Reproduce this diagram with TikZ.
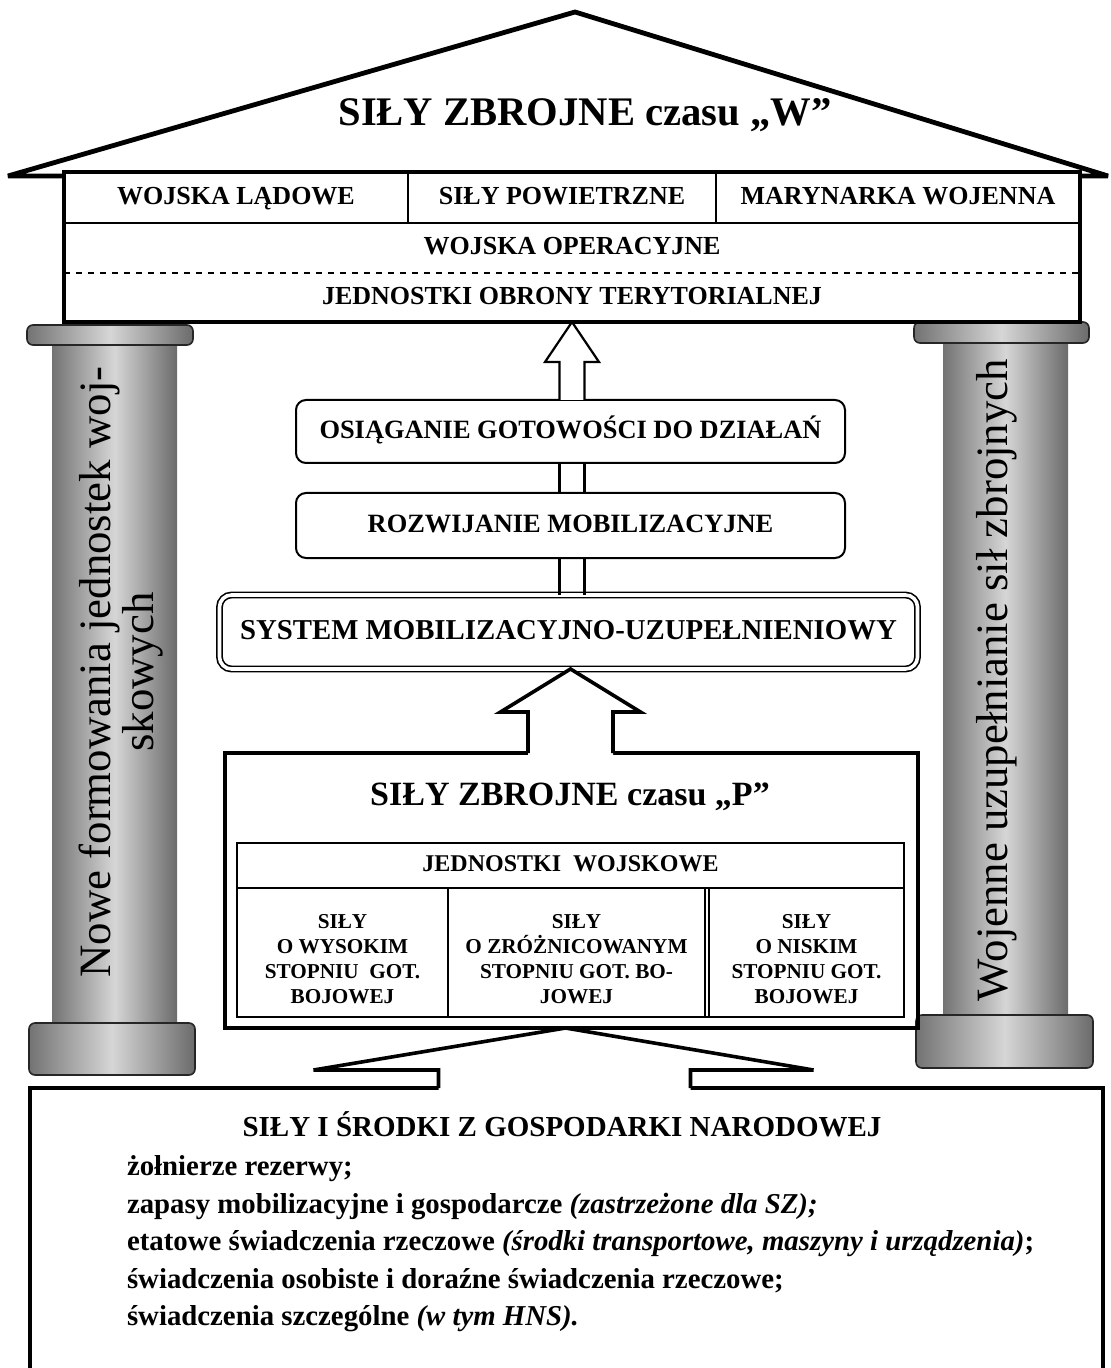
\documentclass[tikz,border=0pt]{standalone}
\usepackage{fontspec}
\setmainfont{Liberation Serif}
\usetikzlibrary{calc}
\begin{document}
\begin{tikzpicture}[x=0.5pt,y=-0.5pt,
  every node/.style={inner sep=0pt,outer sep=0pt},
  roofline/.style={draw=black,line width=2.4pt,line join=bevel,fill=white},
  cellbox/.style={fill=white,text height=9.2pt,text depth=2.6pt,font=\bfseries\fontsize{13}{15}\selectfont},
  procbox/.style={draw,line width=1pt,rounded corners=5pt,fill=white,text height=9.3pt,text depth=2.7pt,font=\bfseries\fontsize{13.2}{15}\selectfont},
  colshade/.style={left color=black!55,right color=black!58,middle color=black!16},
  colpart/.style={colshade,draw=black!85,line width=0.8pt,rounded corners=3pt},
  coltxt/.style={rotate=90,align=center,font=\fontsize{22.4}{20}\selectfont},
  hollow/.style={draw,line width=1.8pt,line join=miter},
  thinarrow/.style={draw,line width=1.1pt,line join=miter},
  tabcell/.style={draw,line width=0.9pt},
  celltxt/.style={align=center,font=\bfseries\fontsize{10.6}{12.5}\selectfont}
]
\useasboundingbox (0,0) rectangle (1110,1368);

% ---------- columns ----------
\node[colshade,minimum width=62.5pt,minimum height=339pt] (lshaft) at (114.5,684) {};
\node[colshade,minimum width=62.5pt,minimum height=336pt] (rshaft) at (1005.5,679) {};
\node[colpart,minimum width=83pt,minimum height=10pt] (lcap) at (110,335) {};
\node[colpart,minimum width=83pt,minimum height=26pt] (lbase) at (112,1049) {};
\node[colpart,minimum width=87.5pt,minimum height=10.5pt] (rcap) at (1001.5,332.5) {};
\node[colpart,minimum width=88.5pt,minimum height=26.5pt] (rbase) at (1004.5,1041.5) {};
\node[coltxt] (ltxt) at (121,672) {Nowe formowania jednostek woj-\\skowych};
\node[coltxt] (rtxt) at (997,680) {Wojenne uzupełnianie sił zbrojnych};

% ---------- roof ----------
\draw[roofline] (8,176) -- (575,12) -- (1108,176) -- cycle;
\node[font=\bfseries\fontsize{20.3}{24}\selectfont] (wtitle) at (585,115) {SIŁY ZBROJNE czasu „W”};

% ---------- wartime forces box ----------
\node[cellbox,minimum width=172pt,minimum height=25.5pt] (wl) at (236,197.5) {WOJSKA LĄDOWE};
\node[cellbox,minimum width=154pt,minimum height=25.5pt] (sp) at (562,197.5) {SIŁY POWIETRZNE};
\node[cellbox,minimum width=182pt,minimum height=25.5pt] (mw) at (898,197.5) {MARYNARKA WOJENNA};
\node[cellbox,minimum width=508pt,minimum height=25pt] (wop) at (572,248) {WOJSKA OPERACYJNE};
\node[cellbox,minimum width=508pt,minimum height=24.5pt] (jot) at (572,297.5) {JEDNOSTKI OBRONY TERYTORIALNEJ};
\draw[line width=1.2pt] (wl.south west) -- (mw.south east);
\draw[line width=1.2pt] (wl.north east) -- (wl.south east);
\draw[line width=1.2pt] (sp.north east) -- (sp.south east);
\draw[dashed,line width=1.2pt] (wop.south west) -- (wop.south east);
\draw[line width=2pt] (wl.north west) rectangle (jot.south east);

% ---------- process boxes ----------
\node[procbox,minimum width=274.5pt,minimum height=31.5pt] (osi) at (570.5,431.5) {OSIĄGANIE GOTOWOŚCI DO DZIAŁAŃ};
\node[procbox,minimum width=274.5pt,minimum height=32.5pt] (roz) at (570.5,525.5) {ROZWIJANIE MOBILIZACYJNE};
\node[draw,double,double distance=1.8pt,line width=0.8pt,rounded corners=6pt,fill=white,minimum width=349pt,minimum height=37pt,text height=10.2pt,text depth=2.9pt,font=\bfseries\fontsize{14.4}{17}\selectfont] (sys) at (568.5,632) {SYSTEM MOBILIZACYJNO-UZUPEŁNIENIOWY};

% middle hollow arrow
\coordinate (mtip) at (jot.south);
\coordinate (ma1) at ($(mtip)+(-12.5,40)$);
\coordinate (ma2) at ($(mtip)+(12.5,40)$);
\draw[thinarrow,fill=white] (ma1 |- osi.north) -- (ma1) -- ($(mtip)+(-27,40)$) -- (mtip) -- ($(mtip)+(27,40)$) -- (ma2) -- (ma2 |- osi.north);
\draw[thinarrow] (ma1 |- osi.south) -- (ma1 |- roz.north);
\draw[thinarrow] (ma2 |- osi.south) -- (ma2 |- roz.north);
\draw[thinarrow] (ma1 |- roz.south) -- (ma1 |- sys.north);
\draw[thinarrow] (ma2 |- roz.south) -- (ma2 |- sys.north);

% ---------- peacetime forces box ----------
\node[draw,line width=2pt,minimum width=346.5pt,minimum height=137.5pt] (pbox) at (571.5,890.5) {};
\node[font=\bfseries\fontsize{17}{20}\selectfont] (ptitle) at (570,797) {SIŁY ZBROJNE czasu „P”};
\node[draw,line width=0.9pt,minimum width=333.5pt,minimum height=22.5pt,text height=8.6pt,text depth=2.4pt,font=\bfseries\fontsize{12}{14}\selectfont] (jw) at (570.5,865.5) {JEDNOSTKI\ \ WOJSKOWE};
\node[tabcell,minimum width=105.5pt,minimum height=64.5pt] (t1) at (342.5,952.5) {};
\node[tabcell,minimum width=128.5pt,minimum height=64.5pt] (t2) at (576.5,952.5) {};
\node[tabcell,minimum width=97.5pt,minimum height=64.5pt] (t3) at (806.5,952.5) {};
\node[celltxt] (t1x) at ($(t1.center)+(0,7)$) {SIŁY\\O WYSOKIM\\STOPNIU\ \ GOT.\\BOJOWEJ};
\node[celltxt] (t2x) at ($(t2.center)+(0,7)$) {SIŁY\\O ZRÓŻNICOWANYM\\STOPNIU GOT. BO-\\JOWEJ};
\node[celltxt] (t3x) at ($(t3.center)+(0,7)$) {SIŁY\\O NISKIM\\STOPNIU GOT.\\BOJOWEJ};
\draw[line width=0.9pt] (jw.north west) rectangle (t3.south east);

% arrow P -> system
\coordinate (ptip) at ($(sys.south)+(2,0)$);
\coordinate (pa1) at ($(ptip)+(-42.5,43)$);
\coordinate (pa2) at ($(ptip)+(42.5,43)$);
\fill[white] ($(pa1 |- pbox.north)+(0,4)$) -- (pa1) -- ($(ptip)+(-70,43)$) -- (ptip) -- ($(ptip)+(70,43)$) -- (pa2) -- ($(pa2 |- pbox.north)+(0,4)$) -- cycle;
\draw[hollow] (pa1 |- pbox.north) -- (pa1) -- ($(ptip)+(-70,43)$) -- (ptip) -- ($(ptip)+(70,43)$) -- (pa2) -- (pa2 |- pbox.north);

% ---------- national economy box ----------
\node[draw,line width=2pt,minimum width=536.5pt,minimum height=160pt] (gosp) at (566.5,1248) {};
\node[font=\bfseries\fontsize{14.5}{17}\selectfont] (gtitle) at (562,1124) {SIŁY I ŚRODKI Z GOSPODARKI NARODOWEJ};
\node[anchor=west,align=left,font=\bfseries\fontsize{14.4}{18.75}\selectfont] (glist) at (127,1244) {żołnierze rezerwy;\\
zapasy mobilizacyjne i gospodarcze \textit{(zastrzeżone dla SZ);}\\
etatowe świadczenia rzeczowe \textit{(środki transportowe, maszyny i urządzenia)};\\
świadczenia osobiste i doraźne świadczenia rzeczowe;\\
świadczenia szczególne \textit{(w tym HNS).}};

% arrow economy -> P
\coordinate (btip) at ($(pbox.south)+(-6,0)$);
\coordinate (ba1) at ($(btip)+(-127,42)$);
\coordinate (ba2) at ($(btip)+(125,42)$);
\fill[white] ($(ba1 |- gosp.north)+(0,4)$) -- (ba1) -- ($(btip)+(-252,42)$) -- (btip) -- ($(btip)+(248,42)$) -- (ba2) -- ($(ba2 |- gosp.north)+(0,4)$) -- cycle;
\draw[hollow] (ba1 |- gosp.north) -- (ba1) -- ($(btip)+(-252,42)$) -- (btip) -- ($(btip)+(248,42)$) -- (ba2) -- (ba2 |- gosp.north);
\end{tikzpicture}
\end{document}
